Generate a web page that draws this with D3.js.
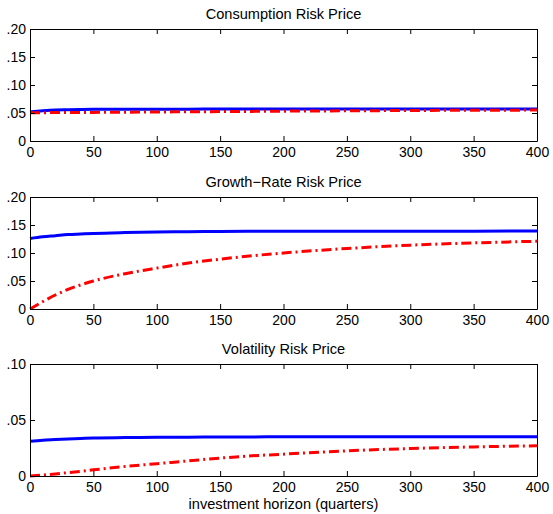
<!DOCTYPE html>
<html>
<head>
<meta charset="utf-8">
<script src="https://cdn.jsdelivr.net/npm/d3@7"></script>
<style>
  html, body { margin: 0; padding: 0; background: #fff; }
  svg { display: block; font-family: "Liberation Sans", Arial, Helvetica, sans-serif; }
  .axis text { font-size: 14px; fill: #000; }
  .axis path, .axis line { stroke: #000; stroke-width: 1; }
  .title { font-size: 14.6px; fill: #000; }
</style>
</head>
<body>
<svg id="chart" width="553" height="514"></svg>
<script>
// Investment horizon in quarters
const horizon = [0, 10, 20, 30, 40, 50, 75, 100, 125, 150, 175, 200, 250, 300, 350, 400];

// Consumption risk price
const consumptionSolid  = [0.0520, 0.0540, 0.0555, 0.0560, 0.0563, 0.0565, 0.0567, 0.0568, 0.0569, 0.0570, 0.0570, 0.0570, 0.0570, 0.0570, 0.0570, 0.0570];
const consumptionDashed = [0.0505, 0.0506, 0.0508, 0.0509, 0.0510, 0.0511, 0.0514, 0.0518, 0.0522, 0.0525, 0.0529, 0.0533, 0.0539, 0.0545, 0.0549, 0.0552];

// Growth-rate risk price
const growthSolid  = [0.126, 0.129, 0.131, 0.133, 0.134, 0.135, 0.1365, 0.1375, 0.138, 0.1385, 0.139, 0.139, 0.139, 0.139, 0.139, 0.1395];
const growthDashed = [0.000, 0.013, 0.025, 0.035, 0.043, 0.050, 0.063, 0.073, 0.082, 0.089, 0.095, 0.100, 0.108, 0.114, 0.118, 0.121];

// Volatility risk price
const volatilitySolid  = [0.031, 0.032, 0.0325, 0.033, 0.0335, 0.034, 0.0343, 0.0345, 0.0347, 0.0348, 0.0349, 0.035, 0.035, 0.035, 0.035, 0.035];
const volatilityDashed = [0.000, 0.0008, 0.0018, 0.0030, 0.0042, 0.0055, 0.0085, 0.0110, 0.0135, 0.0160, 0.0180, 0.0195, 0.0225, 0.0245, 0.0260, 0.0270];

const panelTitles = ["Consumption Risk Price", "Growth\u2212Rate Risk Price", "Volatility Risk Price"];
const panelYMax = [0.20, 0.20, 0.10];
const yTicksWide = [0, 0.05, 0.10, 0.15, 0.20];
const yTicksNarrow = [0, 0.05, 0.10];
const xTicks = [0, 50, 100, 150, 200, 250, 300, 350, 400];
const xLabel = "investment horizon (quarters)";

const panels = [
  { title: panelTitles[0], yMax: panelYMax[0], yTicks: yTicksWide,   solid: consumptionSolid, dashed: consumptionDashed },
  { title: panelTitles[1], yMax: panelYMax[1], yTicks: yTicksWide,   solid: growthSolid,      dashed: growthDashed },
  { title: panelTitles[2], yMax: panelYMax[2], yTicks: yTicksNarrow, solid: volatilitySolid,  dashed: volatilityDashed }
];

// Layout of the three stacked axes boxes
const left = 30, right = 537;
const tops = [29, 197, 364];
const boxHeight = 112;

const svg = d3.select("#chart");

// Tick label format: ".05" style, bare "0" at zero
const yFmt = v => v === 0 ? "0" : d3.format(".2f")(v).replace(/^0/, "");

const x = d3.scaleLinear().domain([0, 400]).range([left, right]);

panels.forEach((p, i) => {
  const top = tops[i], bottom = top + boxHeight;
  const y = d3.scaleLinear().domain([0, p.yMax]).range([bottom, top]);
  const g = svg.append("g");

  // Title
  g.append("text")
    .attr("class", "title")
    .attr("x", (left + right) / 2)
    .attr("y", top - 10)
    .attr("text-anchor", "middle")
    .text(p.title);

  // Curves
  const line = d3.line()
    .x((d, k) => x(horizon[k]))
    .y(d => y(d))
    .curve(d3.curveMonotoneX);

  g.append("path")
    .datum(p.solid)
    .attr("d", line)
    .attr("fill", "none")
    .attr("stroke", "#0000ff")
    .attr("stroke-width", 3);

  g.append("path")
    .datum(p.dashed)
    .attr("d", line)
    .attr("fill", "none")
    .attr("stroke", "#ff0000")
    .attr("stroke-width", 3)
    .attr("stroke-dasharray", "10,4,2,4");

  // Box with inward ticks on all four sides
  g.append("g").attr("class", "axis")
    .attr("transform", `translate(0,${bottom})`)
    .call(d3.axisBottom(x).tickValues(xTicks).tickSizeInner(-5).tickSizeOuter(0).tickPadding(6).tickFormat(d3.format("d")));
  g.append("g").attr("class", "axis")
    .attr("transform", `translate(0,${top})`)
    .call(d3.axisTop(x).tickValues(xTicks).tickSizeInner(-5).tickSizeOuter(0).tickFormat(""));
  g.append("g").attr("class", "axis")
    .attr("transform", `translate(${left},0)`)
    .call(d3.axisLeft(y).tickValues(p.yTicks).tickSizeInner(-5).tickSizeOuter(0).tickPadding(4).tickFormat(yFmt));
  g.append("g").attr("class", "axis")
    .attr("transform", `translate(${right},0)`)
    .call(d3.axisRight(y).tickValues(p.yTicks).tickSizeInner(-5).tickSizeOuter(0).tickFormat(""));
});

svg.selectAll(".axis text").attr("font-family", null);

svg.append("text")
  .attr("class", "title")
  .attr("x", (left + right) / 2)
  .attr("y", 509)
  .attr("text-anchor", "middle")
  .text(xLabel);
</script>
</body>
</html>
